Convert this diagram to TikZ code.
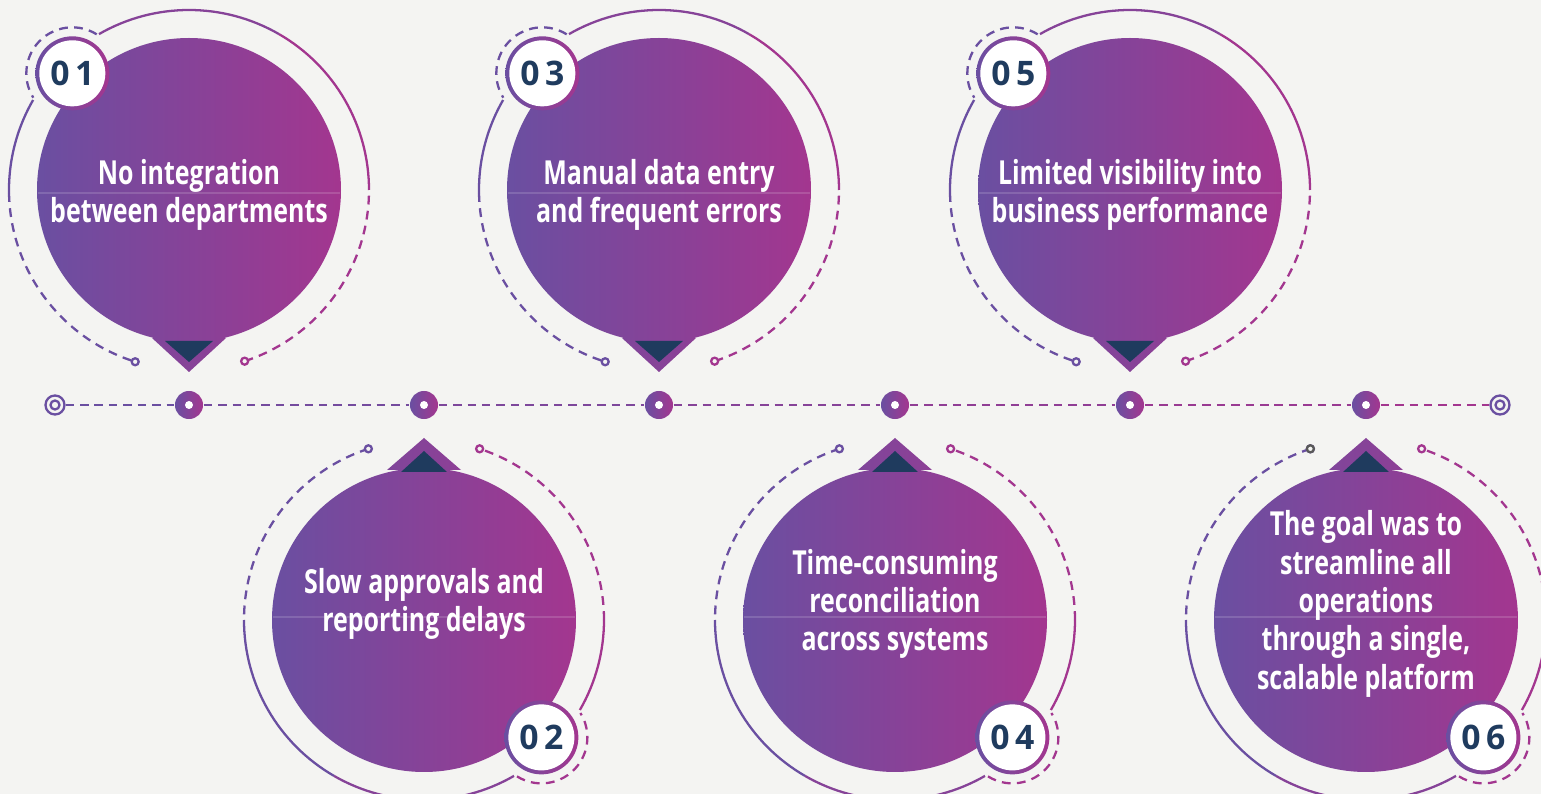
\documentclass[tikz,border=0pt]{standalone}
\usepackage{fontspec}
\setmainfont{Open Sans}
\newfontfamily\narrowfont{Open Sans}[FakeStretch=0.755]
\usetikzlibrary{calc}

\definecolor{paper}{HTML}{F4F4F2}
\definecolor{plumL}{HTML}{6A4FA1}
\definecolor{plumR}{HTML}{A3368F}
\definecolor{navy}{HTML}{1F3B5E}
\colorlet{plumM}{plumR!50!plumL}

\tikzset{
	rim/.style={line width=0.65pt},
	rimdash/.style={line width=0.65pt, dash pattern=on 2.5pt off 1.8pt},
	bubbletext/.style={text=white, align=center, inner sep=0pt, font=\narrowfont\bfseries\fontsize{9.4}{10.9}\selectfont},
	badge/.style={circle, fill=white, minimum size=0.66cm, inner sep=0pt, text=navy, font=\bfseries\fontsize{9.6}{10}\selectfont},
	tlstop/.style={circle, minimum size=0.28cm, inner sep=0pt, left color=plumL, right color=plumR},
	tlend/.style={circle, draw=plumL, line width=0.65pt, fill=paper, minimum size=0.19cm, inner sep=0pt},
	tldash/.style={line width=0.7pt, dash pattern=on 2.4pt off 1.7pt},
}

% bubble above the time line: centre, name, number, text
\def\topbubble(#1)#2#3#4{
	\begin{scope}[shift={(#1)}]
		\draw[rim, plumR] (0:180) arc[start angle=0, end angle=60, radius=180];
		\draw[rim, plumM] (60:180) arc[start angle=60, end angle=120, radius=180];
		\draw[rim, plumL] (150:180) arc[start angle=150, end angle=181, radius=180];
		\draw[rimdash, plumL] (181:180) arc[start angle=181, end angle=252.6, radius=180];
		\draw[rimdash, plumR] (-72:180) arc[start angle=-72, end angle=0, radius=180];
		\draw[rim, plumL, fill=paper] (252.6:180) circle[radius=3.5];
		\draw[rim, plumR, fill=paper] (-72:180) circle[radius=3.5];
		\shade[left color=plumL, right color=plumR] (0,0) circle[radius=152];
		\shade[left color=plumR!38!plumL, right color=plumR!62!plumL] (-37,-148) -- (0,-182) -- (37,-148) -- cycle;
		\fill[navy] (-24,-151) -- (0,-172) -- (24,-151) -- cycle;
		\draw[white, opacity=0.15, line width=0.3pt] (-151,-3) -- (151,-3);
		\node[bubbletext] (#2) at (0,-5) {#4};
		\shade[left color=plumL, right color=plumR] (135:165) circle[radius=37];
		\node[badge] (#2n) at (135:165) {0\hspace{0.16em}#3};
		\draw[rimdash, plumL] (#2n.center) ++(58:46) arc[start angle=58, end angle=212, radius=46];
	\end{scope}
}

% bubble below the time line: centre, name, number, text
\def\lowbubble(#1)#2#3#4{
	\begin{scope}[shift={(#1)}]
		\draw[rim, plumL] (180:180) arc[start angle=180, end angle=240, radius=180];
		\draw[rim, plumM] (240:180) arc[start angle=240, end angle=300, radius=180];
		\draw[rim, plumR] (330:180) arc[start angle=330, end angle=360, radius=180];
		\draw[rimdash, plumL] (108:180) arc[start angle=108, end angle=180, radius=180];
		\draw[rimdash, plumR] (0:180) arc[start angle=0, end angle=72, radius=180];
		\draw[rim, plumL, fill=paper] (108:180) circle[radius=3.5];
		\draw[rim, plumR, fill=paper] (72:180) circle[radius=3.5];
		\shade[left color=plumL, right color=plumR] (0,0) circle[radius=152];
		\shade[left color=plumR!38!plumL, right color=plumR!62!plumL] (-37,150) -- (0,182) -- (37,150) -- cycle;
		\fill[navy] (-23,148) -- (0,169) -- (23,148) -- cycle;
		\draw[white, opacity=0.15, line width=0.3pt] (-151,3) -- (151,3);
		\node[bubbletext] (#2) at (0,16) {#4};
		\shade[left color=plumL, right color=plumR] (-45:166) circle[radius=37];
		\node[badge] (#2n) at (-45:166) {0\hspace{0.16em}#3};
		\draw[rimdash, plumR] (#2n.center) ++(-122:46) arc[start angle=-122, end angle=32, radius=46];
	\end{scope}
}

\begin{document}
\begin{tikzpicture}[x=0.01cm, y=0.01cm]
	%%%%% START %%%%%
	\fill[paper] (0,0) rectangle (1541,-794);
	\useasboundingbox (0,0) rectangle (1541,-794);
	\clip (0,0) rectangle (1541,-794);
	
	% time line
	\node[tlend] (e0) at (55,-405) {};
	\node[tlstop] (s1) at (189,-405) {};
	\node[tlstop] (s2) at (424,-405) {};
	\node[tlstop] (s3) at (659,-405) {};
	\node[tlstop] (s4) at (895,-405) {};
	\node[tlstop] (s5) at (1130,-405) {};
	\node[tlstop] (s6) at (1366,-405) {};
	\node[tlend] (e7) at (1500,-405) {};
	\foreach \a/\b/\m in {e0/s1/0, s1/s2/17, s2/s3/33, s3/s4/50, s4/s5/67, s5/s6/83, s6/e7/100}
		\draw[tldash, plumR!\m!plumL] (\a) -- (\b);
	\foreach \s in {s1,s2,s3,s4,s5,s6}
		\fill[white] (\s.center) circle[radius=4];
	\draw[plumL, line width=0.65pt] (e0.center) circle[radius=4.5];
	\draw[plumL, line width=0.65pt] (e7.center) circle[radius=4.5];
	
	% bubbles
	\topbubble(189,-190){b1}{1}{No integration\\between departments}
	\lowbubble(424,-620){b2}{2}{Slow approvals and\\reporting delays}
	\topbubble(659,-190){b3}{3}{Manual data entry\\and frequent errors}
	\lowbubble(895,-620){b4}{4}{Time-consuming\\reconciliation\\across systems}
	\topbubble(1130,-190){b5}{5}{Limited visibility into\\business performance}
	\lowbubble(1366,-620){b6}{6}{The goal was to\\streamline all\\operations\\through a single,\\scalable platform}
	
	\draw[rim, draw=black!65, fill=paper] (1366,-620) ++(108:180) circle[radius=3.5];
	
	%%%%% END %%%%%
\end{tikzpicture}
\end{document}
